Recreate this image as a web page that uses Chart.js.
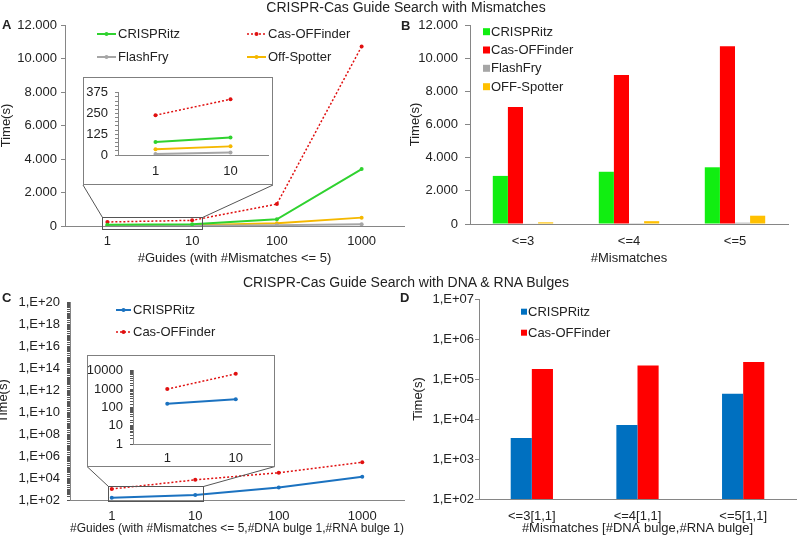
<!DOCTYPE html>
<html>
<head>
<meta charset="utf-8">
<script src="https://cdn.jsdelivr.net/npm/chart.js@4.4.1/dist/chart.umd.min.js"></script>
<style>
  body { margin: 0; background: #fff; font-family: "Liberation Sans", Arial, sans-serif; color: #222; }
  #page { position: relative; width: 798px; height: 539px; overflow: hidden; }
  .abs { position: absolute; }
  .title { font-size: 14px; line-height: 14px; white-space: nowrap; transform: translateX(-50%); }
  .letter { font-size: 13px; font-weight: bold; line-height: 13px; }
  .inset { background: #fff; border: 1px solid #7f7f7f; box-sizing: border-box; }
  .inset canvas { display: block; }
</style>
</head>
<body>
<div id="page">
  <canvas id="chartA" class="abs" style="left:0;top:0" width="408" height="268"></canvas>
  <canvas id="chartB" class="abs" style="left:400px;top:0" width="398" height="268"></canvas>
  <canvas id="chartC" class="abs" style="left:0;top:270px" width="408" height="269"></canvas>
  <canvas id="chartD" class="abs" style="left:400px;top:270px" width="398" height="269"></canvas>
  <div class="abs inset" style="left:83px;top:77px;width:190px;height:108px"><canvas id="insetA" width="188" height="106"></canvas></div>
  <div class="abs inset" style="left:87px;top:355px;width:188px;height:112px"><canvas id="insetC" width="186" height="110"></canvas></div>
  <div class="abs title" style="left:406px;top:0">CRISPR-Cas Guide Search with Mismatches</div>
  <div class="abs title" style="left:406px;top:275px">CRISPR-Cas Guide Search with DNA &amp; RNA Bulges</div>
  <div class="abs letter" style="left:2px;top:18px">A</div>
  <div class="abs letter" style="left:401px;top:19px">B</div>
  <div class="abs letter" style="left:2px;top:291px">C</div>
  <div class="abs letter" style="left:400px;top:291px">D</div>
</div>
<script>
// categories
var guideLabels = ['1', '10', '100', '1000'];
var mismatchLabels = ['<=3', '<=4', '<=5'];
var bulgeLabels = ['<=3[1,1]', '<=4[1,1]', '<=5[1,1]'];

// A - time (s) by number of guides, mismatches <= 5
var aCrispritz = [79, 105, 400, 3400];
var aCasOffinder = [240, 336, 1310, 10720];
var aFlashFry = [6, 15, 50, 110];
var aOffSpotter = [35, 52, 165, 500];

// B - time (s) by number of mismatches
var bCrispritz = [2900, 3150, 3420];
var bCasOffinder = [7060, 8980, 10720];
var bFlashFry = [25, 50, 80];
var bOffSpotter = [100, 170, 500];

// C - time (s) by number of guides, with bulges
var cCrispritz = [160, 280, 1400, 13000];
var cCasOffinder = [1000, 6800, 30000, 270000];

// D - time (s) by mismatches [DNA bulge, RNA bulge]
var dCrispritz = [3350, 7080, 42700];
var dCasOffinder = [178000, 219000, 266000];

var axisGray = '#868686';
var textColor = '#222';
Chart.defaults.font.family = '"Liberation Sans", Arial, sans-serif';
Chart.defaults.font.size = 13;
Chart.defaults.color = textColor;
Chart.defaults.animation = false;

function dotThousands(v) {
  return String(v).replace(/\B(?=(\d{3})+(?!\d))/g, '.');
}
function isDecade(v) {
  var e = Math.log10(v);
  return Math.abs(e - Math.round(e)) < 1e-9;
}
function sciLabel(v) {
  if (!isDecade(v)) return '';
  var e = Math.round(Math.log10(v));
  return '1,E+' + (e < 10 ? '0' + e : e);
}

// legend drawn at fixed spots like the original figure
function makeLegend(kind, items, markLen) {
  return {
    id: 'panelLegend',
    afterDraw: function (chart) {
      var ctx = chart.ctx;
      ctx.save();
      ctx.font = '13px "Liberation Sans", Arial, sans-serif';
      ctx.textBaseline = 'middle';
      items.forEach(function (it) {
        var ds = chart.data.datasets[it.index];
        if (kind === 'box') {
          ctx.fillStyle = ds.backgroundColor;
          ctx.fillRect(it.x, it.y - markLen / 2, markLen, markLen);
          ctx.fillStyle = textColor;
          ctx.fillText(ds.label, it.x + markLen + 1, it.y + 0.5);
        } else {
          ctx.strokeStyle = ds.borderColor;
          ctx.lineWidth = ds.borderWidth;
          ctx.setLineDash(ds.borderDash || []);
          ctx.beginPath();
          ctx.moveTo(it.x, it.y);
          ctx.lineTo(it.x + markLen, it.y);
          ctx.stroke();
          ctx.setLineDash([]);
          ctx.fillStyle = ds.borderColor;
          ctx.beginPath();
          ctx.arc(it.x + markLen / 2, it.y, 2, 0, Math.PI * 2);
          ctx.fill();
          ctx.fillStyle = textColor;
          ctx.fillText(ds.label, it.x + markLen + 2, it.y + 0.5);
        }
      });
      ctx.restore();
    }
  };
}

// small frame round the first two guides and lines to the inset
function makeZoomLink(cfg) {
  return {
    id: 'zoomLink',
    afterDatasetsDraw: function (chart) {
      var xs = chart.scales.x, area = chart.chartArea, ctx = chart.ctx;
      var l = Math.round(xs.getPixelForValue(0) - cfg.padLeft) + 0.5;
      var r = Math.round(xs.getPixelForValue(1) + cfg.padRight) + 0.5;
      var t = Math.round(area.bottom - cfg.above) + 0.5;
      var b = Math.round(area.bottom + cfg.below) + 0.5;
      ctx.save();
      ctx.strokeStyle = '#555';
      ctx.lineWidth = 1;
      ctx.strokeRect(l, t, r - l, b - t);
      ctx.beginPath();
      ctx.moveTo(l, t);
      ctx.lineTo(cfg.boxLeft, cfg.boxBottom);
      ctx.moveTo(r, t);
      ctx.lineTo(cfg.boxRight, cfg.boxBottom);
      ctx.stroke();
      ctx.restore();
    }
  };
}

function lineSet(label, data, color, dotted) {
  return {
    label: label,
    data: data,
    borderColor: color,
    backgroundColor: color,
    borderWidth: dotted ? 1.5 : 2,
    borderDash: dotted ? [2, 2] : [],
    pointRadius: 2,
    pointBorderWidth: 0,
    pointBackgroundColor: color,
    tension: 0
  };
}

function xAxis(title, tickPad, height, titlePad) {
  var ax = {
    type: 'category',
    offset: true,
    grid: { display: false, drawTicks: false, tickLength: 0 },
    border: { color: axisGray },
    ticks: { padding: tickPad, color: textColor, maxRotation: 0, autoSkip: false },
    afterFit: function (s) { s.height = height; }
  };
  if (title) ax.title = { display: true, text: title, color: textColor, padding: { top: 0, bottom: titlePad } };
  return ax;
}

function yAxis(extra, width, tickLen, tickPad, titlePad) {
  var ax = {
    grid: { display: true, drawOnChartArea: false, drawTicks: true, tickLength: tickLen, color: axisGray },
    border: { color: axisGray },
    ticks: { padding: tickPad, color: textColor, autoSkip: false },
    afterFit: function (s) { s.width = width; }
  };
  if (titlePad !== null) {
    ax.title = { display: true, text: 'Time(s)', color: textColor, font: { size: 13, lineHeight: 1 }, padding: { top: titlePad, bottom: 0 } };
  }
  for (var k in extra) {
    if (k === 'ticks') Object.assign(ax.ticks, extra.ticks);
    else ax[k] = extra[k];
  }
  return ax;
}

var greenLine = '#2fd22f', redLine = '#e01010', grayLine = '#a6a6a6', yellowLine = '#f5b800';

// A
new Chart(document.getElementById('chartA'), {
  type: 'line',
  data: {
    labels: guideLabels,
    datasets: [
      lineSet('CRISPRitz', aCrispritz, greenLine, false),
      lineSet('Cas-OFFinder', aCasOffinder, redLine, true),
      lineSet('FlashFry', aFlashFry, grayLine, false),
      lineSet('Off-Spotter', aOffSpotter, yellowLine, false)
    ]
  },
  options: {
    responsive: false,
    layout: { padding: { left: 0, top: 25, right: 2, bottom: 0 } },
    plugins: { legend: { display: false }, tooltip: { enabled: false } },
    scales: {
      x: xAxis('#Guides (with #Mismatches <= 5)', 8, 42, 2),
      y: yAxis({ min: 0, max: 12000, ticks: { stepSize: 2000, callback: dotThousands } }, 65, 4, 4, 0)
    }
  },
  plugins: [
    makeLegend('line', [{ index: 0, x: 97, y: 34 }, { index: 1, x: 247, y: 34 }, { index: 2, x: 97, y: 57 }, { index: 3, x: 247, y: 57 }], 19),
    makeZoomLink({ padLeft: 5, padRight: 10, above: 9, below: 3, boxLeft: 83, boxRight: 273, boxBottom: 185 })
  ]
});

// A inset
new Chart(document.getElementById('insetA'), {
  type: 'line',
  data: {
    labels: guideLabels.slice(0, 2),
    datasets: [
      lineSet('CRISPRitz', aCrispritz.slice(0, 2), greenLine, false),
      lineSet('Cas-OFFinder', aCasOffinder.slice(0, 2), redLine, true),
      lineSet('FlashFry', aFlashFry.slice(0, 2), grayLine, false),
      lineSet('Off-Spotter', aOffSpotter.slice(0, 2), yellowLine, false)
    ]
  },
  options: {
    responsive: false,
    layout: { padding: { left: 0, top: 12, right: 0, bottom: 0 } },
    plugins: { legend: { display: false }, tooltip: { enabled: false } },
    scales: {
      x: xAxis(null, 9, 29, 0),
      y: yAxis({ min: 0, max: 375, ticks: { stepSize: 25, callback: function (v) { return v % 125 === 0 ? v : ''; } } }, 34, 3, 7, null)
    }
  }
});

// B
var barGreen = '#11ee11', barRed = '#ff0000', barGray = '#a6a6a6', barYellow = '#ffc000';
function barSet(label, data, color) {
  return { label: label, data: data, backgroundColor: color, borderWidth: 0, barPercentage: 1 };
}
new Chart(document.getElementById('chartB'), {
  type: 'bar',
  data: {
    labels: mismatchLabels,
    datasets: [
      barSet('CRISPRitz', bCrispritz, barGreen),
      barSet('Cas-OFFinder', bCasOffinder, barRed),
      barSet('FlashFry', bFlashFry, barGray),
      barSet('OFF-Spotter', bOffSpotter, barYellow)
    ]
  },
  options: {
    responsive: false,
    layout: { padding: { left: 0, top: 25, right: 10, bottom: 0 } },
    plugins: { legend: { display: false }, tooltip: { enabled: false } },
    datasets: { bar: { categoryPercentage: 0.57, barPercentage: 1 } },
    scales: {
      x: xAxis('#Mismatches', 10, 44, 2),
      y: yAxis({ min: 0, max: 12000, ticks: { stepSize: 2000, callback: dotThousands } }, 70, 5, 7, 8.5)
    }
  },
  plugins: [
    makeLegend('box', [{ index: 0, x: 83, y: 31.7 }, { index: 1, x: 83, y: 50 }, { index: 2, x: 83, y: 68.3 }, { index: 3, x: 83, y: 86.7 }], 7)
  ]
});

// C
var blueLine = '#1b72c0';
new Chart(document.getElementById('chartC'), {
  type: 'line',
  data: {
    labels: guideLabels,
    datasets: [
      lineSet('CRISPRitz', cCrispritz, blueLine, false),
      lineSet('Cas-OFFinder', cCasOffinder, redLine, true)
    ]
  },
  options: {
    responsive: false,
    layout: { padding: { left: 0, top: 32, right: 3, bottom: 0 } },
    plugins: { legend: { display: false }, tooltip: { enabled: false } },
    scales: {
      x: xAxis('#Guides (with #Mismatches <= 5,#DNA bulge 1,#RNA bulge 1)', 9, 39, 3),
      y: yAxis({
        type: 'logarithmic', min: 100, max: 1e20,
        grid: { display: true, drawOnChartArea: false, drawTicks: true, tickLength: 3, color: '#555' },
        ticks: { callback: function (v) { var e = Math.round(Math.log10(v)); return isDecade(v) && e % 2 === 0 ? sciLabel(v) : ''; } }
      }, 70, 3, 7, -3)
    }
  },
  plugins: [
    makeLegend('line', [{ index: 0, x: 116, y: 40 }, { index: 1, x: 116, y: 62 }], 15),
    makeZoomLink({ padLeft: 4, padRight: 7.5, above: 14, below: 1, boxLeft: 87, boxRight: 275, boxBottom: 196.5 })
  ]
});

// C inset
new Chart(document.getElementById('insetC'), {
  type: 'line',
  data: {
    labels: guideLabels.slice(0, 2),
    datasets: [
      lineSet('CRISPRitz', cCrispritz.slice(0, 2), blueLine, false),
      lineSet('Cas-OFFinder', cCasOffinder.slice(0, 2), redLine, true)
    ]
  },
  options: {
    responsive: false,
    layout: { padding: { left: 0, top: 11, right: 0, bottom: 0 } },
    plugins: { legend: { display: false }, tooltip: { enabled: false } },
    scales: {
      x: xAxis(null, 7, 22, 0),
      y: yAxis({
        type: 'logarithmic', min: 1, max: 10000,
        grid: { display: true, drawOnChartArea: false, drawTicks: true, tickLength: 3, color: '#555' },
        ticks: { callback: function (v) { return isDecade(v) ? String(v) : ''; } }
      }, 45, 3, 7, null)
    }
  }
});

// D
var barBlue = '#0070c0';
new Chart(document.getElementById('chartD'), {
  type: 'bar',
  data: {
    labels: bulgeLabels,
    datasets: [
      barSet('CRISPRitz', dCrispritz, barBlue),
      barSet('Cas-OFFinder', dCasOffinder, barRed)
    ]
  },
  options: {
    responsive: false,
    layout: { padding: { left: 0, top: 29, right: 2, bottom: 0 } },
    plugins: { legend: { display: false }, tooltip: { enabled: false } },
    datasets: { bar: { categoryPercentage: 0.4, barPercentage: 1 } },
    scales: {
      x: xAxis('#Mismatches [#DNA bulge,#RNA bulge]', 10, 40, 3),
      y: yAxis({
        type: 'logarithmic', min: 100, max: 1e7,
        afterBuildTicks: function (s) {
          s.ticks = s.ticks.filter(function (t) { return isDecade(t.value); });
        },
        ticks: { callback: sciLabel }
      }, 79, 4, 1, 11.5)
    }
  },
  plugins: [
    makeLegend('box', [{ index: 0, x: 121, y: 41.7 }, { index: 1, x: 121, y: 62.7 }], 6)
  ]
});
</script>
</body>
</html>
